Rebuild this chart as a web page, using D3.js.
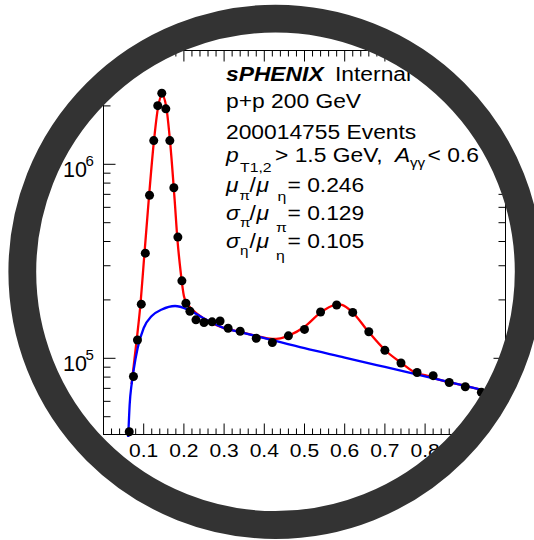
<!DOCTYPE html>
<html>
<head>
<meta charset="utf-8">
<script src="https://cdn.jsdelivr.net/npm/d3@7"></script>
<style>
  body { margin: 0; background: #fff; }
  text { font-family: "Liberation Sans", Arial, Helvetica, sans-serif; fill: #000; }
</style>
</head>
<body>
<script>
const width = 534, height = 540

// diphoton mass bins (GeV) and counts per bin
const massBins = [0.064, 0.0745, 0.0845, 0.094, 0.104, 0.1145, 0.125, 0.135, 0.145, 0.155,
  0.165, 0.175, 0.185, 0.195, 0.205, 0.215, 0.23, 0.25, 0.27, 0.29,
  0.31, 0.34, 0.38, 0.42, 0.46, 0.50, 0.54, 0.58, 0.62, 0.66,
  0.70, 0.74, 0.78, 0.82, 0.86, 0.90, 0.94, 0.98]
const counts = [41800, 80600, 124200, 190100, 348300, 692400, 1325000, 2005000, 2326000, 1931000,
  1325000, 757500, 421500, 250800, 192300, 174700, 157900, 152900, 154200, 155700,
  142800, 137800, 126800, 120600, 130600, 140900, 173300, 188300, 172400, 137100,
  109900, 94600, 84500, 81400, 75000, 71300, 66800, 63500]

// background fit (blue)
const bkgMass = [0.0615, 0.065, 0.070, 0.075, 0.085, 0.10, 0.12, 0.145, 0.178, 0.21,
  0.25, 0.30, 0.34, 0.40, 0.50, 0.60, 0.70, 0.80, 0.90, 1.00]
const bkgCounts = [39300, 57400, 73700, 87000, 113000, 143300, 165200, 178400, 186000, 178400,
  160300, 143200, 136600, 127200, 112700, 100900, 90200, 80600, 72000, 64300]

// total fit (red)
const fitMass = [0.070, 0.0725, 0.0825, 0.092, 0.100, 0.1125, 0.125, 0.136, 0.1455, 0.156,
  0.166, 0.177, 0.184, 0.192, 0.200, 0.207, 0.217, 0.25, 0.30, 0.34,
  0.38, 0.42, 0.44, 0.464, 0.50, 0.54, 0.576, 0.585, 0.593, 0.6176,
  0.659, 0.70, 0.742, 0.779, 0.804, 0.82, 0.90, 1.00]
const fitCounts = [73700, 82000, 124200, 190500, 309900, 654600, 1288000, 1982000, 2276000, 1982000,
  1283000, 654600, 407200, 278500, 209500, 192800, 181700, 160300, 143200, 137000,
  130500, 125800, 126800, 131800, 145500, 172000, 188300, 189400, 188300, 174100,
  137100, 110400, 94300, 83700, 81400, 79200, 72000, 64300]

const xTickLabels = ["0.1", "0.2", "0.3", "0.4", "0.5", "0.6", "0.7", "0.8", "0.9"]
const yDecades = [5, 6]

const x = d3.scaleLinear()
    .domain([0, 1])
    .range([103.5, 505.5])

const y = d3.scaleLog()
    .domain([40480, 3.86e6])
    .range([434.5, 50.5])

const stretch = 1.17

const svg = d3.select("body").append("svg")
    .attr("width", width)
    .attr("height", height)

svg.append("rect")
    .attr("width", width)
    .attr("height", height)
    .style("fill", "#fff")

svg.append("defs").append("clipPath")
    .attr("id", "lens")
  .append("circle")
    .attr("cx", 275.5)
    .attr("cy", 271.8)
    .attr("r", 253)

const plot = svg.append("g")
    .attr("clip-path", "url(#lens)")

// frame
plot.append("rect")
    .attr("x", x.range()[0])
    .attr("y", y.range()[1])
    .attr("width", x.range()[1] - x.range()[0])
    .attr("height", y.range()[0] - y.range()[1])
    .style("fill", "none")
    .style("stroke", "#000")
    .style("stroke-width", 1)

// x ticks, bottom and top
const isTenth = d => Math.abs(d * 10 - Math.round(d * 10)) < 1e-6
const xMinor = x.ticks(50).filter(d => d > 0 && d < 1)
const yBottom = y.range()[0], yTop = y.range()[1]

plot.selectAll(".xtickB")
    .data(xMinor)
    .enter()
    .append("line")
      .attr("class", "xtickB")
      .attr("x1", d => x(d)).attr("x2", d => x(d))
      .attr("y1", yBottom)
      .attr("y2", d => yBottom - (isTenth(d) ? 11 : 6))
      .style("stroke", "#000")

plot.selectAll(".xtickT")
    .data(xMinor)
    .enter()
    .append("line")
      .attr("class", "xtickT")
      .attr("x1", d => x(d)).attr("x2", d => x(d))
      .attr("y1", yTop)
      .attr("y2", d => yTop + (isTenth(d) ? 11 : 6))
      .style("stroke", "#000")

// y ticks, left and right
const isDecade = d => Math.abs(Math.log10(d) - Math.round(Math.log10(d))) < 1e-9
const yTicks = y.ticks()
const xLeft = x.range()[0], xRight = x.range()[1]

plot.selectAll(".ytickL")
    .data(yTicks)
    .enter()
    .append("line")
      .attr("class", "ytickL")
      .attr("x1", xLeft)
      .attr("x2", d => xLeft + (isDecade(d) ? 12 : 7))
      .attr("y1", d => y(d)).attr("y2", d => y(d))
      .style("stroke", "#000")

plot.selectAll(".ytickR")
    .data(yTicks)
    .enter()
    .append("line")
      .attr("class", "ytickR")
      .attr("x1", xRight)
      .attr("x2", d => xRight - (isDecade(d) ? 12 : 7))
      .attr("y1", d => y(d)).attr("y2", d => y(d))
      .style("stroke", "#000")

// tick labels
plot.selectAll(".xlabel")
    .data(xTickLabels)
    .enter()
    .append("text")
      .attr("class", "xlabel")
      .attr("text-anchor", "middle")
      .attr("transform", d => `translate(${x(+d)},457) scale(${stretch},1)`)
      .style("font-size", "18px")
      .text(d => d)

const ylab = plot.selectAll(".ylabel")
    .data(yDecades)
    .enter()
    .append("g")
      .attr("class", "ylabel")

ylab.append("text")
    .attr("x", 63)
    .attr("y", d => y(Math.pow(10, d)) + 12.6)
    .style("font-size", "21.5px")
    .text("10")

ylab.append("text")
    .attr("x", 85.5)
    .attr("y", d => y(Math.pow(10, d)) + 1.5)
    .style("font-size", "15px")
    .text(d => d)

// fits
const line = d3.line()
    .x(d => x(d[0]))
    .y(d => y(d[1]))
    .curve(d3.curveMonotoneX)

plot.append("path")
    .datum(fitMass.map((m, i) => [m, fitCounts[i]]))
    .attr("d", line)
    .style("fill", "none")
    .style("stroke", "#ff0000")
    .style("stroke-width", 2.3)

plot.append("path")
    .datum(bkgMass.map((m, i) => [m, bkgCounts[i]]))
    .attr("d", line)
    .style("fill", "none")
    .style("stroke", "#0000ff")
    .style("stroke-width", 2.3)

// data points
plot.selectAll(".pt")
    .data(massBins.map((m, i) => [m, counts[i]]))
    .enter()
    .append("circle")
      .attr("class", "pt")
      .attr("cx", d => x(d[0]))
      .attr("cy", d => y(d[1]))
      .attr("r", 4.5)
      .style("fill", "#000")

// info text
const pieces = [
  ["sPHENIX", 226, 80.7, 19.5, "bold", "italic"],
  ["Internal", 335, 80.7, 19.5],
  ["p+p 200 GeV", 226, 108.3, 19.5],
  ["200014755 Events", 226, 139, 19.5],
  ["p", 226, 161.7, 19.5, "normal", "italic"],
  ["T1,2", 240, 171.5, 13.5],
  ["> 1.5 GeV,", 275, 161.7, 19.5],
  ["A", 395, 161.7, 19.5, "normal", "italic"],
  ["γγ", 410, 167.3, 13],
  ["< 0.6", 427.5, 161.7, 19.5],
  ["μ", 226, 191.7, 19.5, "normal", "italic"],
  ["π", 239.5, 200, 13],
  ["/", 249.5, 191.7, 19.5],
  ["μ", 256.5, 191.7, 19.5, "normal", "italic"],
  ["η", 277.5, 201, 13.5],
  ["= 0.246", 287.5, 191.7, 19.5],
  ["σ", 226, 220, 19.5, "normal", "italic"],
  ["π", 240, 226.7, 13],
  ["/", 249.5, 220, 19.5],
  ["μ", 256.5, 220, 19.5, "normal", "italic"],
  ["π", 276, 231.7, 13.5],
  ["= 0.129", 287.5, 220, 19.5],
  ["σ", 226, 248.3, 19.5, "normal", "italic"],
  ["η", 240, 254.5, 13],
  ["/", 249.5, 248.3, 19.5],
  ["μ", 256.5, 248.3, 19.5, "normal", "italic"],
  ["η", 276, 259.5, 13.5],
  ["= 0.105", 287.5, 248.3, 19.5]
]

plot.selectAll(".info")
    .data(pieces)
    .enter()
    .append("text")
      .attr("class", "info")
      .attr("transform", d => `translate(${d[1]},${d[2]}) scale(${stretch},1)`)
      .style("font-size", d => d[3] + "px")
      .style("font-weight", d => d[4] || "normal")
      .style("font-style", d => d[5] || "normal")
      .text(d => d[0])

// lens ring
svg.append("circle")
    .attr("cx", 275.5)
    .attr("cy", 271.8)
    .attr("r", 253.2)
    .style("fill", "none")
    .style("stroke", "#333")
    .style("stroke-width", 27.8)
</script>
</body>
</html>
